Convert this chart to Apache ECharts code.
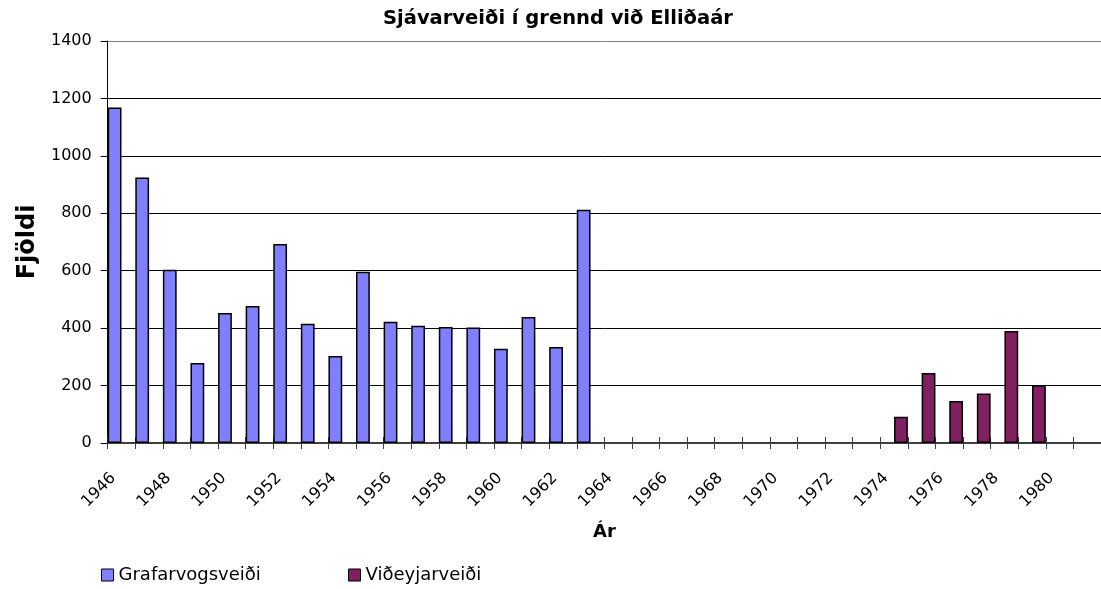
<!DOCTYPE html>
<html lang="is">
<head>
    <meta charset="UTF-8">
    <title>Sjávarveiði í grennd við Elliðaár</title>
    <style>
        html, body { margin: 0; padding: 0; background: #fff; }
    </style>
</head>
<body>
<div id="main" style="width:1101px;height:589px;"></div>
<script src="https://cdn.jsdelivr.net/npm/echarts@6/dist/echarts.min.js"></script>
<script>
    // ár (flokkar), 1981 og 1982 eru tóm bil á enda ássins
    var years = [];
    for (var y = 1946; y <= 1982; y++) years.push(String(y));

    // 1946-1963
    var grafarvogur = [1168, 925, 603, 279, 453, 477, 693, 415, 303, 596, 422, 408, 404, 402, 328, 439, 334, 812];
    // 1975-1980
    var videy = [91, 244, 146, 172, 390, 201];

    var yTicks = [0, 200, 400, 600, 800, 1000, 1200, 1400];

    function onYears(vals, firstYear) {
        return years.map(function (yr) {
            var i = Number(yr) - firstYear;
            return (i >= 0 && i < vals.length) ? vals[i] : null;
        });
    }

    var font = '"DejaVu Sans", Verdana, sans-serif';
    var myChart = echarts.init(document.getElementById('main'));
    var option = {
        backgroundColor: '#fff',
        animation: false,
        title: {
            text: 'Sjávarveiði í grennd við Elliðaár',
            left: 383,
            top: 9,
            padding: 0,
            textStyle: {fontFamily: font, fontSize: 19.5, fontWeight: 'bold', color: '#000'}
        },
        legend: [{
            data: ['Grafarvogsveiði'],
            left: 101,
            top: 566,
            padding: 0,
            icon: 'rect',
            itemWidth: 12,
            itemHeight: 12,
            itemStyle: {borderWidth: 1},
            textStyle: {fontFamily: font, fontSize: 18, color: '#000'}
        }, {
            data: ['Viðeyjarveiði'],
            left: 348,
            top: 566,
            padding: 0,
            icon: 'rect',
            itemWidth: 12,
            itemHeight: 12,
            itemStyle: {borderWidth: 1},
            textStyle: {fontFamily: font, fontSize: 18, color: '#000'}
        }],
        grid: {
            left: 107.7,
            top: 41,
            width: 997,
            height: 402
        },
        xAxis: [{
            type: 'category',
            data: years,
            boundaryGap: false,
            name: 'Ár',
            nameLocation: 'middle',
            nameGap: 80,
            nameTextStyle: {fontFamily: font, fontSize: 18, fontWeight: 'bold', color: '#000'},
            axisLine: {lineStyle: {color: '#404040', width: 2}},
            axisTick: {show: true, interval: 0, length: 6, lineStyle: {color: '#404040'}},
            axisLabel: {
                interval: function (i, v) { return i % 2 === 0 && v !== '1982'; },
                rotate: 45,
                margin: 27,
                verticalAlign: 'top',
                fontFamily: font,
                fontSize: 16,
                color: '#000'
            },
            splitLine: {show: false}
        }, {
            // innri hlutinn af krossmerkjunum
            type: 'category',
            data: years,
            boundaryGap: false,
            position: 'bottom',
            axisLine: {show: false},
            axisTick: {show: true, inside: true, interval: 0, length: 6, lineStyle: {color: '#404040'}},
            axisLabel: {show: false},
            splitLine: {show: false}
        }],
        yAxis: {
            type: 'value',
            min: yTicks[0],
            max: yTicks[yTicks.length - 1],
            interval: 200,
            name: 'Fjöldi',
            nameLocation: 'middle',
            nameGap: 62,
            nameTextStyle: {fontFamily: font, fontSize: 24, fontWeight: 'bold', color: '#000'},
            axisLine: {show: true, lineStyle: {color: '#000', width: 1}},
            axisTick: {show: true, length: 7, lineStyle: {color: '#000'}},
            axisLabel: {
                margin: 16,
                fontFamily: font,
                fontSize: 16,
                color: '#000',
                formatter: function (v) { return String(v); }
            },
            splitLine: {
                show: true,
                lineStyle: {
                    color: ['#000', '#000', '#000', '#000', '#000', '#000', '#000', '#808080'],
                    width: 1
                }
            }
        },
        series: [
            {
                // vinstri helmingur hvers bils
                name: 'Viðeyjarveiði',
                type: 'bar',
                data: onYears(videy, 1975),
                barGap: 0,
                barCategoryGap: 0,
                itemStyle: {color: '#802060', borderColor: '#000', borderWidth: 1.5}
            },
            {
                name: 'Grafarvogsveiði',
                type: 'bar',
                data: onYears(grafarvogur, 1946),
                barGap: 0,
                barCategoryGap: 0,
                itemStyle: {color: '#8080ff', borderColor: '#000', borderWidth: 1.5}
            }
        ]
    };
    myChart.setOption(option);
</script>
</body>
</html>
